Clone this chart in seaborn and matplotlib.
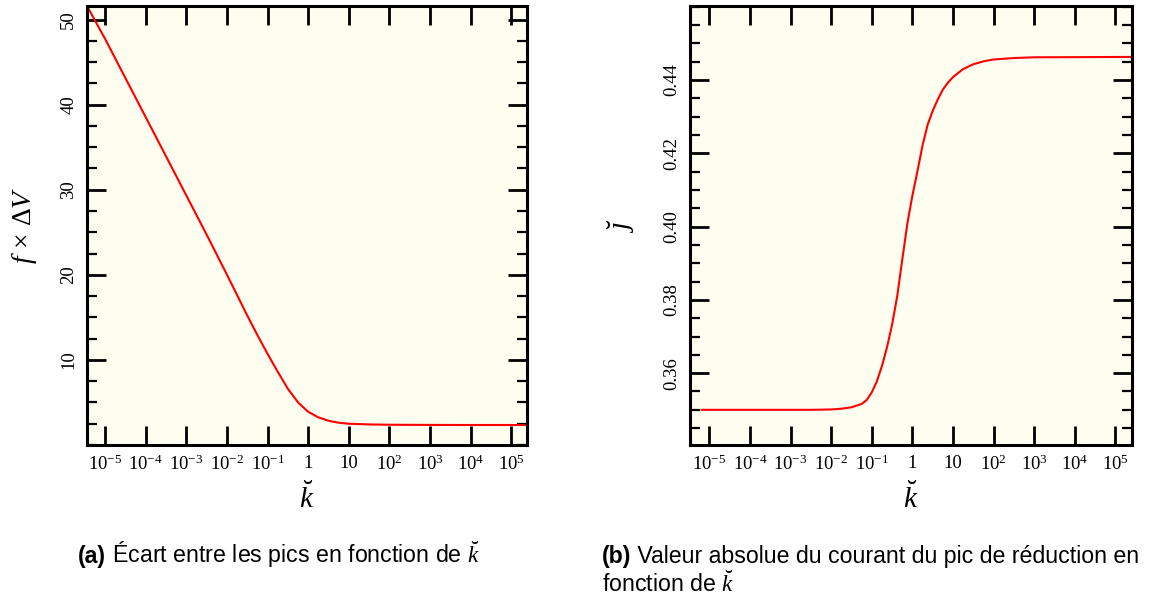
import numpy as np
import pandas as pd
import matplotlib
matplotlib.use("Agg")
import matplotlib.pyplot as plt
import seaborn as sns
from matplotlib.ticker import FixedLocator, MultipleLocator, FixedFormatter

# ---------------- data ----------------
# (a) f x DeltaV vs log10(k)
logk_a = [-5.45, -5.0, -4.5, -4.0, -3.5, -3.0, -2.5, -2.0, -1.75, -1.5, -1.25,
          -1.0, -0.75, -0.5, -0.25, 0.0, 0.25, 0.5, 0.75, 1.0, 1.5, 2.0, 3.0,
          4.0, 5.4]
dv_a = [51.6, 47.7, 43.1, 38.5, 33.9, 29.3, 24.7, 20.0, 17.6, 15.2, 12.9,
        10.7, 8.6, 6.6, 5.0, 3.9, 3.25, 2.85, 2.62, 2.50, 2.42, 2.38, 2.36,
        2.35, 2.35]

# (b) |j| vs log10(k)
logk_b = [-5.2, -3.0, -2.5, -2.0, -1.75, -1.5, -1.25, -1.125, -1.0, -0.875,
          -0.75, -0.625, -0.5, -0.375, -0.25, -0.125, 0.0, 0.125, 0.25, 0.375,
          0.5, 0.625, 0.75, 0.875, 1.0, 1.25, 1.5, 1.75, 2.0, 2.5, 3.0, 5.41]
j_b = [0.3500, 0.3500, 0.3500, 0.3501, 0.3503, 0.3507, 0.3516, 0.3527,
       0.3548, 0.3578, 0.3620, 0.3671, 0.3733, 0.3810, 0.3910, 0.4008,
       0.4085, 0.4152, 0.4222, 0.4278, 0.4316, 0.4347, 0.4374, 0.4393,
       0.4408, 0.4430, 0.4443, 0.4451, 0.4456, 0.4460, 0.4462, 0.4463]

xtick_exp = [-5, -4, -3, -2, -1, 0, 1, 2, 3, 4, 5]
xtick_labels = [r"$10^{-5}$", r"$10^{-4}$", r"$10^{-3}$", r"$10^{-2}$",
                r"$10^{-1}$", "1", "10", r"$10^{2}$", r"$10^{3}$",
                r"$10^{4}$", r"$10^{5}$"]
yticks_a = [10, 20, 30, 40, 50]
yticks_b = [0.36, 0.38, 0.40, 0.42, 0.44]
ytick_labels_b = ["0.36", "0.38", "0.40", "0.42", "0.44"]

caption_a = ("(a)", r" Écart entre les pics en fonction de $\breve{k}$")
caption_b1 = ("(b)", " Valeur absolue du courant du pic de réduction en")
caption_b2 = r"fonction de $\breve{k}$"

# ---------------- style ----------------
sns.set_style("ticks")
plt.rcParams.update({
    "font.family": ["Liberation Serif", "DejaVu Serif"],
    "mathtext.fontset": "custom",
    "mathtext.rm": "Liberation Serif",
    "mathtext.it": "Liberation Serif:italic",
    "mathtext.bf": "Liberation Serif:bold",
    "axes.linewidth": 2.2,
    "axes.edgecolor": "black",
    "text.color": "black",
    "axes.labelcolor": "black",
    "xtick.color": "black",
    "ytick.color": "black",
    "xtick.direction": "in",
    "ytick.direction": "in",
    "xtick.top": True,
    "ytick.right": True,
})

W, H = 1152, 602
fig = plt.figure(figsize=(W / 100, H / 100), dpi=100)
fig.patch.set_facecolor("white")


def px_axes(x0, y0, x1, y1):
    return fig.add_axes([x0 / W, 1 - y1 / H, (x1 - x0) / W, (y1 - y0) / H])


ax_a = px_axes(87, 6, 527, 445)
ax_b = px_axes(690, 6, 1132, 445)

df_a = pd.DataFrame({"k": np.power(10.0, logk_a), "v": dv_a})
df_b = pd.DataFrame({"k": np.power(10.0, logk_b), "v": j_b})

for ax, df in ((ax_a, df_a), (ax_b, df_b)):
    ax.set_facecolor("#FEFEF0")
    sns.lineplot(data=df, x="k", y="v", ax=ax, color="#FF0000", linewidth=1.5,
                 estimator=None, sort=False)
    ax.set_xscale("log")
    ax.xaxis.set_major_locator(FixedLocator([10.0 ** e for e in xtick_exp]))
    ax.xaxis.set_major_formatter(FixedFormatter(xtick_labels))
    ax.xaxis.set_minor_locator(FixedLocator([]))
    ax.tick_params(axis="x", which="major", length=14, width=2.0, labelsize=13.5, pad=7)
    ax.tick_params(axis="y", which="major", length=14, width=2.0, labelsize=13.5,
                   labelrotation=90, pad=7)
    ax.tick_params(axis="y", which="minor", length=7.5, width=1.6)
    for s in ax.spines.values():
        s.set_linewidth(2.2)
        s.set_visible(True)

ax_a.set_xlim(10 ** -5.45, 10 ** 5.39)
ax_a.set_ylim(0, 51.6)
ax_a.yaxis.set_major_locator(FixedLocator(yticks_a))
ax_a.yaxis.set_minor_locator(MultipleLocator(2.5))

ax_b.set_xlim(10 ** -5.48, 10 ** 5.41)
ax_b.set_ylim(0.3404, 0.4602)
ax_b.yaxis.set_major_locator(FixedLocator(yticks_b))
ax_b.yaxis.set_major_formatter(FixedFormatter(ytick_labels_b))
ax_b.yaxis.set_minor_locator(MultipleLocator(0.005))

for lab in ax_a.get_yticklabels() + ax_b.get_yticklabels():
    lab.set_va("center")

ax_a.set_xlabel(r"$\breve{k}$", fontsize=21)
ax_b.set_xlabel(r"$\breve{k}$", fontsize=21)
ax_a.set_ylabel(r"$f\, \times \,\Delta V$", fontsize=20)
ax_b.set_ylabel(r"$\breve{\jmath}$", fontsize=21)
ax_a.xaxis.set_label_coords(0.5, -0.085)
ax_b.xaxis.set_label_coords(0.5, -0.085)
ax_a.yaxis.set_label_coords(-0.11, 0.5)
ax_b.yaxis.set_label_coords(-0.12, 0.5)

# ---------------- captions ----------------
fig.canvas.draw()
renderer = fig.canvas.get_renderer()
CAP_FS = 16.7


def caption(x_px, y_px, bold, rest):
    t1 = fig.text(x_px / W, 1 - y_px / H, bold, fontsize=CAP_FS, weight="bold",
                  family="Liberation Sans", va="baseline")
    bb = t1.get_window_extent(renderer)
    fig.text(bb.x1 / W, 1 - y_px / H, rest, fontsize=CAP_FS,
             family="Liberation Sans", va="baseline")


caption(78, 563, *caption_a)
caption(602, 563, *caption_b1)
fig.text(602 / W, 1 - 592 / H, caption_b2, fontsize=CAP_FS,
         family="Liberation Sans", va="baseline")

fig.savefig("out.png", dpi=100, facecolor="white")
